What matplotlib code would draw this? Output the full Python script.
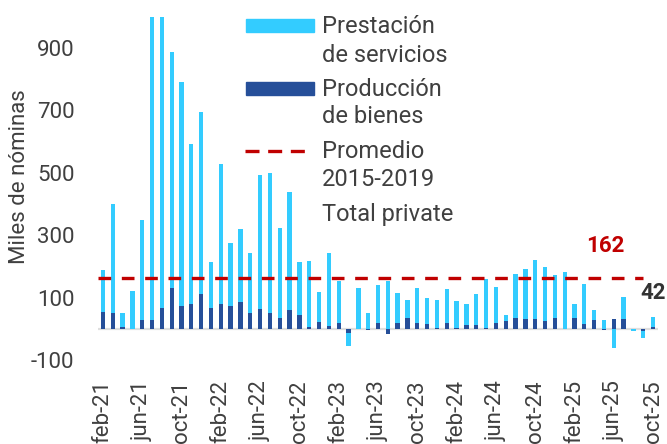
import numpy as np
import matplotlib
matplotlib.use('Agg')
from matplotlib import pyplot as plt
from matplotlib.patches import Rectangle
from matplotlib.lines import Line2D

plt.rcParams['font.family'] = ['Roboto', 'DejaVu Sans']

# datos mensuales feb-21 .. oct-25 (miles de nóminas)
meses = ['jan', 'feb', 'mar', 'apr', 'may', 'jun', 'jul', 'aug', 'sep', 'oct', 'nov', 'dec']
servicios = [133, 348, 43, 122, 318, 1060, 1000, 757, 715, 514, 581, 148,
             446, 199, 232, 191, 429, 448, 288, 378, 171, 211, 97, 234,
             137, -40, 131, 52, 120, 153, 99, 56, 112, 83, 90, 111,
             87, 67, 100, 157, 117, 19, 141, 162, 189, 171, 140, 183,
             44, 130, 32, 30, -59, 72, -5, -24, 32]
bienes = [55, 52, 7, 0, 30, 30, 67, 130, 75, 79, 113, 66,
          81, 75, 87, 52, 63, 52, 34, 60, 44, 7, 22, 11,
          18, -13, 0, -2, 21, -16, 18, 37, 18, 15, 2, 18,
          4, 12, 12, 4, 18, 25, 36, 31, 31, 27, 34, 0,
          37, 15, 28, -2, 33, 31, 0, -5, 7]
promedio = 162
ultimo = 42
etiquetas_x = []
for i in range(len(servicios)):
    m = (1 + i) % 12
    a = 21 + (1 + i) // 12
    etiquetas_x.append('%s-%d' % (meses[m], a))

serv = np.array(servicios)
bien = np.array(bienes)
x = np.arange(len(serv))
base_serv = np.where(np.sign(serv) == np.sign(bien), bien, 0)

c_serv = '#33ccff'
c_bien = '#264f99'
c_rojo = '#c00000'
c_txt = '#404040'

fig = plt.figure(figsize=(6.67, 4.44), dpi=100)
ax = fig.add_axes([98 / 667, 68 / 444, 560 / 667, 359.4 / 444])

ax.axhline(0, color='#dedede', lw=1.6, zorder=0.5)
ax.bar(x, bien, width=0.44, color=c_bien, zorder=2)
ax.bar(x, serv, width=0.44, bottom=base_serv, color=c_serv, zorder=2)
ax.hlines(promedio, -0.5, 55, color=c_rojo, lw=2.4, linestyles=(0, (3.8, 3.2)), zorder=3)

ax.text(51.1, promedio + 103, str(promedio), color=c_rojo, fontsize=16, fontweight='bold',
        ha='center', va='center')
ax.text(56, ultimo + 72, str(ultimo), color='#333333', fontsize=16, fontweight='bold',
        ha='center', va='center', clip_on=False)

ax.set_xlim(-0.5, len(serv) - 0.5)
ax.set_ylim(-150, 1000)
ax.set_yticks([-100, 100, 300, 500, 700, 900])
ax.set_yticklabels(['-100', '100', '300', '500', '700', '900'])
ax.set_xticks(x[::4])
ax.set_xticklabels(etiquetas_x[::4], rotation=90)
ax.tick_params(axis='y', length=0, pad=17, labelsize=16, labelcolor=c_txt)
ax.tick_params(axis='x', length=0, pad=3, labelsize=16, labelcolor=c_txt)
for s in ax.spines.values():
    s.set_visible(False)

fig.text(20 / 667, 1 - 177 / 444, 'Miles de nóminas', rotation=90, ha='center', va='center',
         fontsize=16, color=c_txt)

# leyenda manual
def fx(px):
    return px / 667

def fy(py):
    return 1 - py / 444

fig.patches.append(Rectangle((fx(246), fy(32)), 68 / 667, 13 / 444, color=c_serv,
                             transform=fig.transFigure))
fig.patches.append(Rectangle((fx(246), fy(95)), 68 / 667, 13 / 444, color=c_bien,
                             transform=fig.transFigure))
fig.lines.append(Line2D([fx(245), fx(306)], [fy(151), fy(151)], color=c_rojo, lw=2.4,
                        dashes=(4.2, 2.6), transform=fig.transFigure))
textos = ['Prestación', 'de servicios', 'Producción', 'de bienes', 'Promedio', '2015-2019',
          'Total private']
bases = [33.3, 62.3, 95.7, 123.3, 157.7, 186, 220.7]
for t, b in zip(textos, bases):
    fig.text(fx(321.5), fy(b), t, fontsize=17, color=c_txt, ha='left', va='baseline')

fig.savefig('out.png', dpi=100)
